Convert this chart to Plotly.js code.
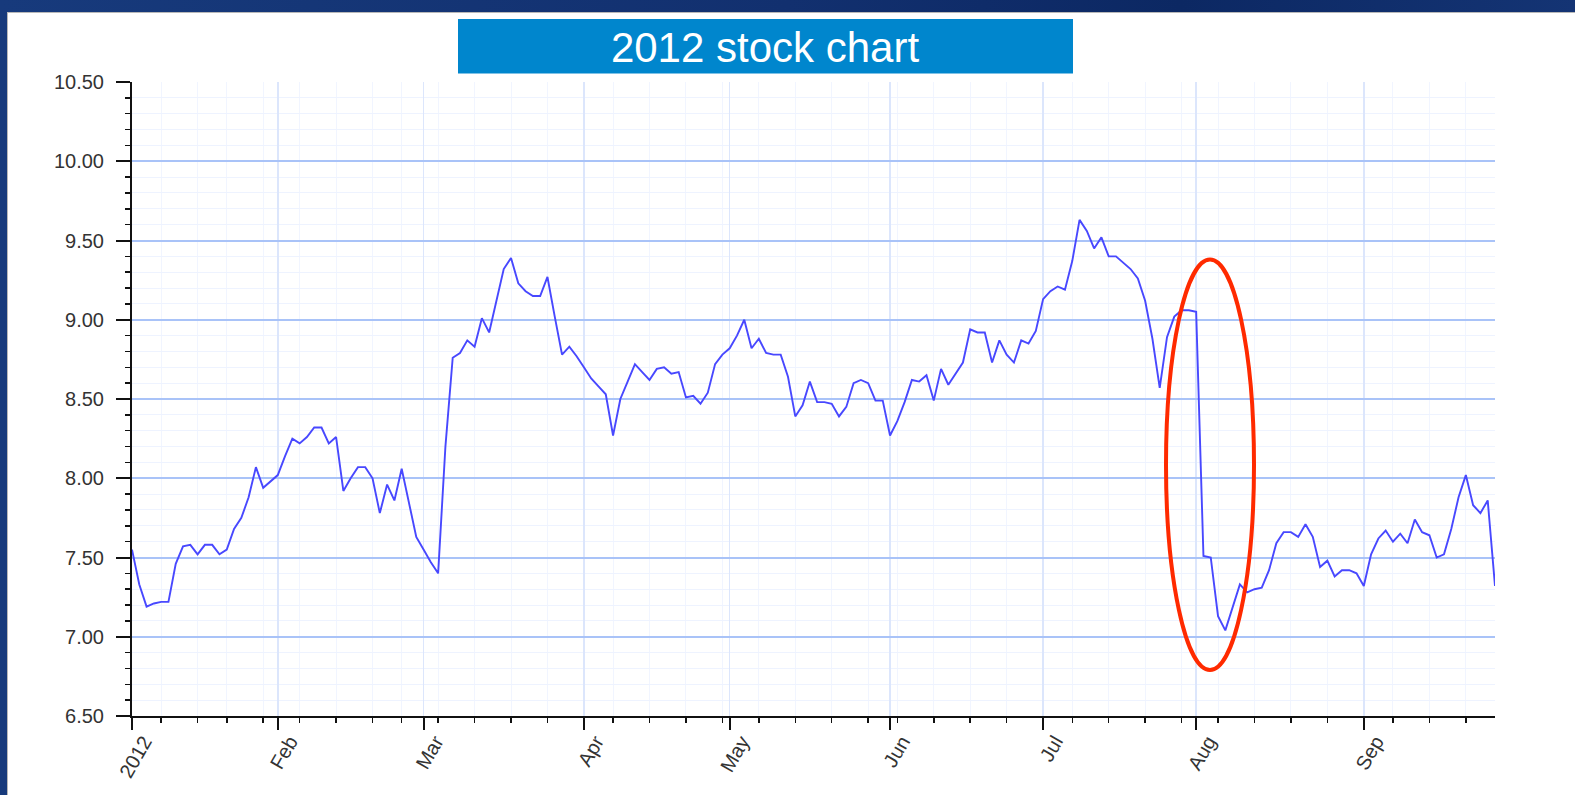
<!DOCTYPE html>
<html>
<head>
<meta charset="utf-8">
<script src="https://cdn.plot.ly/plotly-3.0.1.min.js"></script>
<style>
  html, body { margin:0; padding:0; width:1575px; height:795px; overflow:hidden;
    background: linear-gradient(90deg, #173a7c 0%, #12306f 50%, #0c2863 75%, #143474 100%); }
  #panel { position:absolute; left:7px; top:12px; width:1568px; height:783px; background:#fff;
    border-top:1px solid #b8b8b8; border-left:1px solid #b8b8b8; box-sizing:border-box; }
  #chart { position:absolute; left:0; top:0; width:1575px; height:795px; }
</style>
</head>
<body>
<div id="panel"></div>
<div id="chart"></div>
<script>
// ---- data ----
const startDate = '2012-01-03';
const holidays = ['2012-01-02','2012-01-16','2012-02-20','2012-04-06','2012-05-28','2012-07-04','2012-09-03'];
const prices = [
  7.55, 7.33, 7.19, 7.21, 7.22, 7.22, 7.46, 7.57, 7.58, 7.52,
  7.58, 7.58, 7.52, 7.55, 7.68, 7.75, 7.88, 8.07, 7.94, 7.98,
  8.02, 8.14, 8.25, 8.22, 8.26, 8.32, 8.32, 8.22, 8.26, 7.92,
  8.00, 8.07, 8.07, 8.00, 7.78, 7.96, 7.86, 8.06, 7.84, 7.63,
  7.55, 7.47, 7.40, 8.20, 8.76, 8.79, 8.87, 8.83, 9.01, 8.92,
  9.12, 9.32, 9.39, 9.23, 9.18, 9.15, 9.15, 9.27, 9.02, 8.78,
  8.83, 8.77, 8.70, 8.63, 8.58, 8.53, 8.27, 8.50, 8.61, 8.72,
  8.67, 8.62, 8.69, 8.70, 8.66, 8.67, 8.51, 8.52, 8.47, 8.54,
  8.72, 8.78, 8.82, 8.90, 9.00, 8.82, 8.88, 8.79, 8.78, 8.78,
  8.64, 8.39, 8.46, 8.61, 8.48, 8.48, 8.47, 8.39, 8.45, 8.60,
  8.62, 8.60, 8.49, 8.49, 8.27, 8.36, 8.48, 8.62, 8.61, 8.65,
  8.49, 8.69, 8.59, 8.66, 8.73, 8.94, 8.92, 8.92, 8.73, 8.87,
  8.78, 8.73, 8.87, 8.85, 8.93, 9.13, 9.18, 9.21, 9.19, 9.37,
  9.63, 9.56, 9.45, 9.52, 9.40, 9.40, 9.36, 9.32, 9.26, 9.12,
  8.88, 8.57, 8.89, 9.02, 9.06, 9.06, 9.05, 7.51, 7.50, 7.13,
  7.04, 7.18, 7.33, 7.28, 7.30, 7.31, 7.42, 7.59, 7.66, 7.66,
  7.63, 7.71, 7.63, 7.44, 7.48, 7.38, 7.42, 7.42, 7.40, 7.32,
  7.52, 7.62, 7.67, 7.60, 7.65, 7.59, 7.74, 7.66, 7.64, 7.50,
  7.52, 7.68, 7.88, 8.02, 7.83, 7.78, 7.86, 7.32
];
const monthLabels = ['2012','Feb','Mar','Apr','May','Jun','Jul','Aug','Sep'];
const chartTitle = '2012 stock chart';

// ---- trading-day calendar ----
function iso(d){ return d.toISOString().slice(0,10); }
const dates = [];
{
  let d = new Date(startDate + 'T00:00:00Z');
  while (dates.length < prices.length) {
    const wd = d.getUTCDay();
    const s = iso(d);
    if (wd !== 0 && wd !== 6 && holidays.indexOf(s) < 0) dates.push(s);
    d = new Date(d.getTime() + 86400000);
  }
}
// first trading day of each month -> major ticks
const monthTicks = [];
dates.forEach((s, i) => { if (i === 0 || s.slice(5,7) !== dates[i-1].slice(5,7)) monthTicks.push(s); });
// first trading day of each week -> minor ticks
const weekTicks = [];
dates.forEach((s, i) => {
  if (i === 0) return;
  const a = new Date(dates[i-1] + 'T00:00:00Z').getUTCDay();
  const b = new Date(s + 'T00:00:00Z').getUTCDay();
  if (b <= a) weekTicks.push(s);
});

const font = {family: '"Liberation Sans", Arial, Helvetica, sans-serif', size: 20, color: '#333'};

const trace = {
  x: dates, y: prices, type: 'scatter', mode: 'lines',
  line: {color: '#4848ff', width: 1.9},
  hoverinfo: 'skip'
};

const layout = {
  width: 1575, height: 795,
  margin: {l: 132, r: 80, t: 82, b: 79},
  paper_bgcolor: 'rgba(0,0,0,0)',
  plot_bgcolor: '#ffffff',
  showlegend: false,
  font: font,
  title: {
    text: chartTitle,
    font: {family: '"Liberation Sans", Arial, Helvetica, sans-serif', size: 42, color: '#ffffff'},
    x: 765/1575, xanchor: 'center', xref: 'container',
    y: 1 - 47/795, yanchor: 'middle', yref: 'container'
  },
  xaxis: {
    type: 'date',
    range: [dates[0], dates[dates.length-1]],
    rangebreaks: [{bounds: ['sat', 'mon']}, {values: holidays}],
    tickmode: 'array', tickvals: monthTicks, ticktext: monthLabels,
    tickangle: -60,
    ticks: 'outside', ticklen: 12, tickwidth: 2, tickcolor: '#111',
    ticklabelstandoff: -8, ticklabelshift: 12,
    showline: true, linecolor: '#111', linewidth: 2,
    showgrid: true, gridcolor: '#dce6fc', gridwidth: 1.5,
    zeroline: false,
    tickfont: font,
    minor: {tickmode: 'array', tickvals: weekTicks, ticks: 'outside', ticklen: 5, tickwidth: 1.5,
            tickcolor: '#111', showgrid: true, gridcolor: '#f1f5ff', gridwidth: 1}
  },
  yaxis: {
    range: [6.5, 10.5],
    tickmode: 'linear', tick0: 6.5, dtick: 0.5, tickformat: '.2f',
    ticks: 'outside', ticklen: 14, tickwidth: 2, tickcolor: '#111',
    ticklabelstandoff: 8,
    showline: true, linecolor: '#111', linewidth: 2,
    showgrid: true, gridcolor: '#a9c3f8', gridwidth: 2,
    zeroline: false,
    tickfont: font,
    minor: {dtick: 0.1, ticks: 'outside', ticklen: 5, tickwidth: 1.5, tickcolor: '#111',
            showgrid: true, gridcolor: '#eef3ff', gridwidth: 1}
  },
  shapes: [
    {type: 'rect', xref: 'paper', yref: 'paper',
     x0: (458-132)/1363, x1: (1073-132)/1363, y0: (716-73.5)/634, y1: (716-19)/634,
     fillcolor: '#0086cd', line: {width: 0}, layer: 'above'},
    {type: 'circle', xref: 'paper', yref: 'y',
     x0: (1166-132)/1363, x1: (1254-132)/1363, y0: 6.79, y1: 9.38,
     line: {color: '#ff2a00', width: 4}, layer: 'above'}
  ]
};

Plotly.newPlot('chart', [trace], layout, {displayModeBar: false, staticPlot: true});
</script>
</body>
</html>
